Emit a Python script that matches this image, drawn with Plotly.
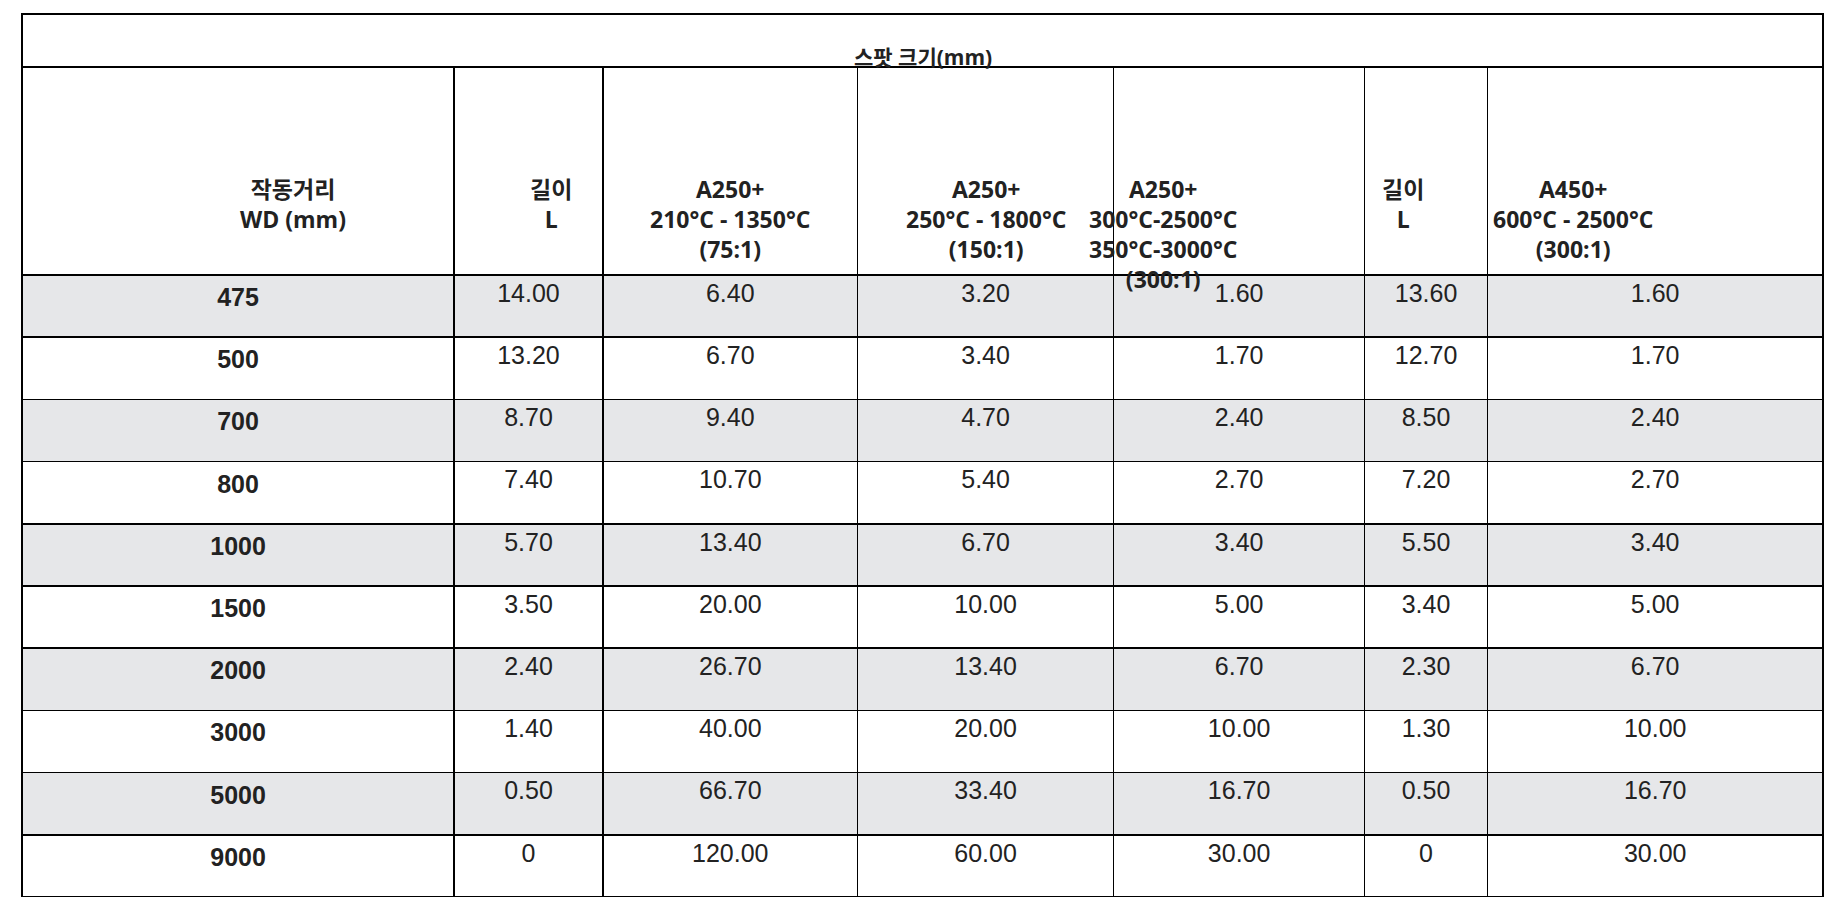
import plotly.graph_objects as go

title = "스팟 크기(mm)"
headers = ["작동거리<br>WD (mm)", "길이<br>L", "A250+<br>210°C - 1350°C<br>(75:1)",
           "A250+<br>250°C - 1800°C<br>(150:1)", "A250+<br>300°C-2500°C<br>350°C-3000°C<br>(300:1)",
           "길이<br>L", "A450+<br>600°C - 2500°C<br>(300:1)"]
wd = ["475", "500", "700", "800", "1000", "1500", "2000", "3000", "5000", "9000"]
len_l1 = ["14.00", "13.20", "8.70", "7.40", "5.70", "3.50", "2.40", "1.40", "0.50", "0"]
a250_75 = ["6.40", "6.70", "9.40", "10.70", "13.40", "20.00", "26.70", "40.00", "66.70", "120.00"]
a250_150 = ["3.20", "3.40", "4.70", "5.40", "6.70", "10.00", "13.40", "20.00", "33.40", "60.00"]
a250_300 = ["1.60", "1.70", "2.40", "2.70", "3.40", "5.00", "6.70", "10.00", "16.70", "30.00"]
len_l2 = ["13.60", "12.70", "8.50", "7.20", "5.50", "3.40", "2.30", "1.30", "0.50", "0"]
a450_300 = ["1.60", "1.70", "2.40", "2.70", "3.40", "5.00", "6.70", "10.00", "16.70", "30.00"]

widths = [363, 125, 214, 215, 211, 103, 282]
W, H = 1839, 901
ml, mr, mt, mb = 14, 24, 6, 12
ph = H - mt - mb
top_h = 53
head_h = 208
split = 1 - top_h / ph

row_fill = ["#e6e7e9" if i % 2 == 0 else "white" for i in range(len(wd))]
cols = [[f"<b>{v}</b>" for v in wd], len_l1, a250_75, a250_150, a250_300, len_l2, a450_300]
line = dict(color="black", width=1.5)
narrow = "Liberation Sans Narrow, Arial Narrow, sans-serif"
bold = "Open Sans, Liberation Sans, Noto Sans CJK KR, sans-serif"

fig = go.Figure()
fig.add_trace(go.Table(
    domain=dict(x=[0, 1], y=[split, 1]),
    columnwidth=[1],
    header=dict(values=[""], height=top_h, fill_color="white", line=line),
))
fig.add_trace(go.Table(
    domain=dict(x=[0, 1], y=[0, split]),
    columnwidth=widths,
    header=dict(values=[""] * len(headers), height=head_h, fill_color="white", line=line),
    cells=dict(values=cols, height=62.2, fill_color=[row_fill] * 7, line=line, align="center",
               font=dict(family=narrow, size=25, color="#222")),
))

fig.add_annotation(x=0.5, y=1 - (top_h / 2) / ph, xref="paper", yref="paper",
                   text=f"<b>{title}</b>", showarrow=False,
                   font=dict(family=bold, size=21, color="#222"))
tot = sum(widths)
acc = 0
for w, h in zip(widths, headers):
    cx = (acc + w / 2) / tot
    acc += w
    fig.add_annotation(x=cx, y=split - (head_h / 2) / ph, xref="paper", yref="paper",
                       text=f"<b>{h}</b>", showarrow=False, align="center",
                       font=dict(family=bold, size=23, color="#222"))

fig.update_layout(width=W, height=H, margin=dict(l=ml, r=mr, t=mt, b=mb),
                  paper_bgcolor="white")
fig.write_html("out.html")
